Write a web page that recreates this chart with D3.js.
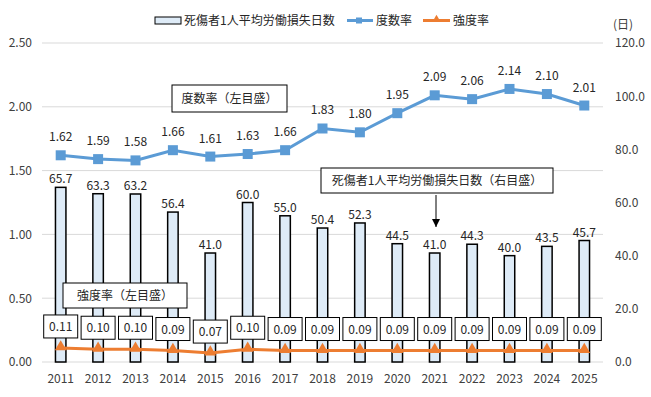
<!DOCTYPE html>
<html>
<head>
<meta charset="utf-8">
<script src="https://cdn.jsdelivr.net/npm/d3@7"></script>
<style>
  body { margin: 0; background: #fff; }
  text { font-family: "Noto Sans CJK JP", "Noto Sans", sans-serif; }
</style>
</head>
<body>
<svg></svg>
<script>
const years = ["2011", "2012", "2013", "2014", "2015", "2016", "2017", "2018",
    "2019", "2020", "2021", "2022", "2023", "2024", "2025"];
const lostDays = [65.7, 63.3, 63.2, 56.4, 41.0, 60.0, 55.0, 50.4, 52.3, 44.5, 41.0, 44.3, 40.0, 43.5, 45.7];
const frequency = [1.62, 1.59, 1.58, 1.66, 1.61, 1.63, 1.66, 1.83, 1.80, 1.95, 2.09, 2.06, 2.14, 2.10, 2.01];
const severity = [0.11, 0.10, 0.10, 0.09, 0.07, 0.10, 0.09, 0.09, 0.09, 0.09, 0.09, 0.09, 0.09, 0.09, 0.09];
const leftTicks = [0, 0.5, 1.0, 1.5, 2.0, 2.5];
const rightTicks = [0, 20, 40, 60, 80, 100, 120];

const svgWidth = 651;
const svgHeight = 397;
const svg = d3.select("svg").attr("width", svgWidth).attr("height", svgHeight);

const plot = {left: 42, right: 603, top: 43, bottom: 362};

const x = d3.scaleBand().domain(years).range([plot.left, plot.right]).paddingInner(0.72).paddingOuter(0.36);
const yL = d3.scaleLinear().domain([0, 2.5]).range([plot.bottom, plot.top]);
const yR = d3.scaleLinear().domain([0, 120]).range([plot.bottom, plot.top]);
const cx = d => x(d) + x.bandwidth() / 2;

const blue = "#5B9BD5", orange = "#ED7D31", tickColor = "#404040";

// gridlines
svg.append("g").selectAll("line").data(leftTicks).enter().append("line")
    .attr("x1", plot.left).attr("x2", plot.right)
    .attr("y1", d => yL(d)).attr("y2", d => yL(d))
    .attr("stroke", "#D9D9D9").attr("stroke-width", 1);

// left axis
const axL = svg.append("g").attr("transform", "translate(" + plot.left + ",0)")
    .call(d3.axisLeft(yL).tickValues(leftTicks).tickFormat(d3.format(".2f")).tickSize(0).tickPadding(10));
axL.select(".domain").remove();
axL.selectAll("text").attr("font-size", 12).attr("fill", tickColor).attr("font-family", "Noto Sans CJK JP");

// right axis
const axR = svg.append("g").attr("transform", "translate(" + plot.right + ",0)")
    .call(d3.axisRight(yR).tickValues(rightTicks).tickFormat(d3.format(".1f")).tickSize(0).tickPadding(12));
axR.select(".domain").remove();
axR.selectAll("text").attr("font-size", 12).attr("fill", tickColor).attr("font-family", "Noto Sans CJK JP");
svg.append("text").attr("x", 613).attr("y", 29).attr("font-size", 12).attr("fill", tickColor).text("(日)");

// x axis
const axX = svg.append("g").attr("transform", "translate(0," + plot.bottom + ")")
    .call(d3.axisBottom(x).tickSize(0).tickPadding(12));
axX.select(".domain").remove();
axX.selectAll("text").attr("font-size", 12).attr("fill", tickColor).attr("font-family", "Noto Sans CJK JP");

// bars
svg.append("g").selectAll("rect").data(lostDays).enter().append("rect")
    .attr("x", (d, i) => x(years[i]))
    .attr("y", d => yR(d))
    .attr("width", x.bandwidth())
    .attr("height", d => plot.bottom - yR(d))
    .attr("fill", "#DEEBF7").attr("stroke", "#000").attr("stroke-width", 1.5);

svg.append("g").selectAll("text").data(lostDays).enter().append("text")
    .attr("x", (d, i) => cx(years[i]))
    .attr("y", d => yR(d) - 4)
    .attr("text-anchor", "middle").attr("font-size", 12).attr("fill", "#262626")
    .text(d => d.toFixed(1));

// frequency line
const lineF = d3.line().x((d, i) => cx(years[i])).y(d => yL(d));
svg.append("path").datum(frequency).attr("d", lineF)
    .attr("fill", "none").attr("stroke", blue).attr("stroke-width", 3);
svg.append("g").selectAll("rect").data(frequency).enter().append("rect")
    .attr("x", (d, i) => cx(years[i]) - 5)
    .attr("y", d => yL(d) - 5)
    .attr("width", 10).attr("height", 10).attr("fill", blue);
svg.append("g").selectAll("text").data(frequency).enter().append("text")
    .attr("x", (d, i) => cx(years[i]))
    .attr("y", d => yL(d) - 14)
    .attr("text-anchor", "middle").attr("font-size", 12).attr("fill", "#262626")
    .text(d => d.toFixed(2));

// severity line
const lineS = d3.line().x((d, i) => cx(years[i])).y(d => yL(d));
svg.append("path").datum(severity).attr("d", lineS)
    .attr("fill", "none").attr("stroke", orange).attr("stroke-width", 3);
const tri = d3.symbol().type(d3.symbolTriangle).size(60);
svg.append("g").selectAll("path").data(severity).enter().append("path")
    .attr("transform", (d, i) => "translate(" + cx(years[i]) + "," + (yL(d) - 1) + ")")
    .attr("d", tri).attr("fill", orange);

const sLab = svg.append("g").selectAll("g").data(severity).enter().append("g")
    .attr("transform", (d, i) => "translate(" + cx(years[i]) + "," + (yL(d) - 10) + ")");
sLab.append("rect").attr("x", -17).attr("y", -23).attr("width", 34).attr("height", 23)
    .attr("fill", "#fff").attr("stroke", "#000").attr("stroke-width", 1);
sLab.append("text").attr("y", -7).attr("text-anchor", "middle").attr("font-size", 12)
    .attr("fill", "#262626").text(d => d.toFixed(2));

// callout boxes
function callout(x0, y0, w, h, label) {
    svg.append("rect").attr("x", x0).attr("y", y0).attr("width", w).attr("height", h)
        .attr("fill", "#fff").attr("stroke", "#000").attr("stroke-width", 1);
    svg.append("text").attr("x", x0 + w / 2).attr("y", y0 + h / 2 + 4)
        .attr("text-anchor", "middle").attr("font-size", 12).attr("fill", "#262626").text(label);
}
callout(172, 85, 115, 27, "度数率（左目盛）");
callout(63, 283, 124, 25, "強度率（左目盛）");
callout(321, 168, 232, 25, "死傷者1人平均労働損失日数（右目盛）");

svg.append("defs").append("marker").attr("id", "arr")
    .attr("viewBox", "0 0 10 10").attr("refX", 10).attr("refY", 5)
    .attr("markerWidth", 8).attr("markerHeight", 8).attr("orient", "auto")
    .append("path").attr("d", "M0,0 L10,5 L0,10 z").attr("fill", "#000");
svg.append("line").attr("x1", 436).attr("y1", 195).attr("x2", 436).attr("y2", 227)
    .attr("stroke", "#000").attr("stroke-width", 1).attr("marker-end", "url(#arr)");

// legend
const lg = svg.append("g").attr("font-size", 12).attr("fill", "#262626");
lg.append("rect").attr("x", 155).attr("y", 17).attr("width", 26).attr("height", 7)
    .attr("fill", "#DEEBF7").attr("stroke", "#000").attr("stroke-width", 1);
lg.append("text").attr("x", 184).attr("y", 25).text("死傷者1人平均労働損失日数");
lg.append("line").attr("x1", 347).attr("x2", 373).attr("y1", 20.5).attr("y2", 20.5)
    .attr("stroke", blue).attr("stroke-width", 3);
lg.append("rect").attr("x", 356).attr("y", 17.5).attr("width", 6).attr("height", 6).attr("fill", blue);
lg.append("text").attr("x", 376).attr("y", 25).text("度数率");
lg.append("line").attr("x1", 423).attr("x2", 450).attr("y1", 20.5).attr("y2", 20.5)
    .attr("stroke", orange).attr("stroke-width", 3);
lg.append("path").attr("transform", "translate(436.5,19.5)")
    .attr("d", d3.symbol().type(d3.symbolTriangle).size(30)).attr("fill", orange);
lg.append("text").attr("x", 453).attr("y", 25).text("強度率");
</script>
</body>
</html>
